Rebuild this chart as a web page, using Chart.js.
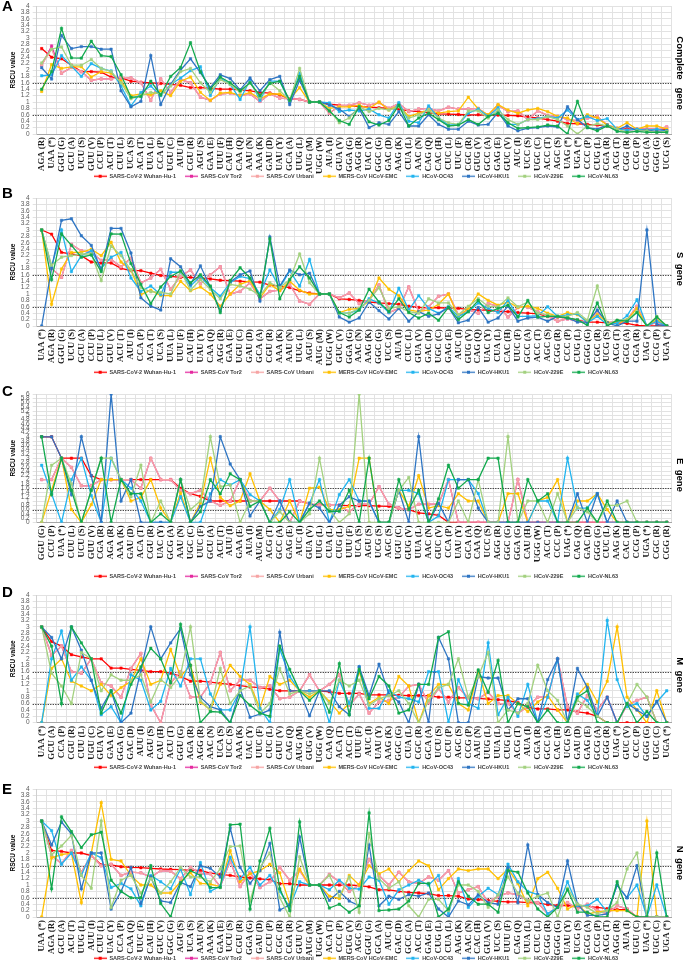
<!DOCTYPE html>
<html><head><meta charset="utf-8">
<script src="https://cdn.jsdelivr.net/npm/chart.js@4.4.0/dist/chart.umd.min.js"></script>
<style>
html,body{margin:0;padding:0;background:#fff;width:685px;height:962px;overflow:hidden;position:relative;font-family:"Liberation Sans",Arial,sans-serif}
.letter{position:absolute;left:2px;font:bold 15px/15px "Liberation Sans",Arial,sans-serif;color:#000}
.gene{position:absolute;writing-mode:vertical-rl;font:bold 9.5px "Liberation Sans",Arial,sans-serif;white-space:pre;transform:translate(-50%,-50%);color:#000}
</style></head><body>
<script>
// ---------- series ----------
const seriesNames = ['SARS-CoV-2 Wuhan-Hu-1','SARS-CoV Tor2','SARS-CoV Urbani','MERS-CoV HCoV-EMC','HCoV-OC43','HCoV-HKU1','HCoV-229E','HCoV-NL63'];
const thresholds = [1.6, 0.6];

// ---------- Panel A: complete gene ----------
const labelsA = ['AGA (R)','UAA (*)','GGU (G)','GCU (A)','UCU (S)','GUU (V)','CCU (P)','ACU (T)','CUU (L)','UCA (S)','ACA (T)','UUA (L)','CCA (P)','UGU (C)','AUU (I)','CGU (R)','AGU (S)','GAA (E)','UUU (F)','CAU (H)','CAA (Q)','AAU (N)','AAA (K)','GAU (D)','UAU (Y)','GCA (A)','UUG (L)','AUG (M)','UGG (W)','AUA (I)','GUA (V)','GGA (G)','AGG (R)','UAC (Y)','GGC (G)','GAC (D)','AAG (K)','CUA (L)','AAC (N)','CAG (Q)','CAC (H)','CUC (L)','UUC (F)','CGC (R)','GUG (V)','GCC (A)','GAG (E)','GUC (V)','AUC (I)','UCC (S)','UGC (C)','ACC (T)','AGC (S)','UAG (*)','UGA (*)','CCC (P)','CUG (L)','CGA (R)','ACG (T)','CGG (R)','CCG (P)','GCG (A)','GGG (G)','UCG (S)'];
const cov2A = [2.67,2.4,2.35,2.15,1.95,1.95,1.93,1.78,1.75,1.65,1.62,1.6,1.58,1.55,1.52,1.45,1.45,1.43,1.4,1.4,1.38,1.35,1.3,1.28,1.22,1.1,1.08,1,1,0.93,0.9,0.88,0.86,0.84,0.82,0.8,0.78,0.72,0.7,0.66,0.63,0.62,0.61,0.6,0.6,0.59,0.59,0.58,0.57,0.53,0.5,0.45,0.4,0.33,0.32,0.3,0.28,0.25,0.17,0.16,0.15,0.15,0.14,0.14];
const tor2A = [2.15,2.75,1.9,2.08,1.95,1.68,1.72,1.72,1.77,1.75,1.6,1.05,1.72,1.3,1.7,1.6,1.15,1.05,1.25,1.28,1.2,1.25,1.02,1.25,1.12,1.1,1.08,1,1,0.65,0.88,0.9,0.97,0.9,0.98,0.8,0.95,0.7,0.78,0.8,0.72,0.84,0.78,0.78,0.8,0.58,0.9,0.7,0.72,0.45,0.72,0.58,0.55,0.45,0.42,0.5,0.55,0.28,0.18,0.12,0.15,0.15,0.15,0.22];
const urbaniA = [2.15,2.65,1.9,2.08,1.95,1.68,1.72,1.72,1.77,1.75,1.6,1.05,1.72,1.3,1.7,1.6,1.15,1.05,1.25,1.28,1.2,1.25,1.02,1.25,1.12,1.1,1.08,1,1,0.65,0.88,0.9,0.97,0.9,0.98,0.8,0.95,0.7,0.78,0.8,0.72,0.84,0.78,0.78,0.8,0.58,0.9,0.7,0.72,0.45,0.72,0.58,0.55,0.45,0.42,0.5,0.55,0.28,0.18,0.12,0.15,0.15,0.15,0.22];
const mersA = [1.33,2.17,2.05,2.1,2.1,1.78,1.95,1.9,1.65,1.2,1.25,1.22,1.35,1.2,1.65,1.78,1.3,1.05,1.28,1.3,1.2,1.3,1.1,1.25,1.25,1.08,1.45,1,1,0.8,0.85,0.85,0.9,0.8,1.0,0.75,0.9,0.55,0.65,0.75,0.65,0.7,0.72,1.15,0.78,0.6,0.92,0.75,0.65,0.75,0.8,0.7,0.55,0.5,0.32,0.6,0.5,0.28,0.18,0.35,0.15,0.25,0.25,0.15];
const oc43A = [1.82,1.85,2.45,2.12,1.8,2.2,2.05,1.97,1.5,0.88,1.3,1.5,1.2,1.55,1.75,1.98,2.1,1.2,1.75,1.55,1.08,1.68,1.05,1.65,1.65,1.0,1.9,1,1,0.97,0.7,0.75,0.72,0.78,0.6,0.5,0.98,0.4,0.35,0.88,0.5,0.28,0.3,0.65,0.78,0.55,0.82,0.3,0.3,0.45,0.48,0.55,0.5,0.75,0.45,0.55,0.42,0.48,0.15,0.12,0.15,0.12,0.15,0.1];
const hku1A = [2.07,1.72,3.08,2.67,2.73,2.73,2.65,2.65,1.35,0.85,1.02,2.45,0.92,1.55,2.0,2.35,1.92,1.45,1.85,1.73,1.38,1.75,1.35,1.7,1.8,0.92,1.68,1,1,0.9,0.78,0.55,0.8,0.2,0.35,0.3,0.7,0.25,0.25,0.6,0.3,0.15,0.15,0.4,0.28,0.3,0.68,0.25,0.1,0.18,0.2,0.25,0.22,0.85,0.45,0.2,0.15,0.28,0.12,0.25,0.1,0.12,0.08,0.1];
const e229A = [2.22,2.65,2.72,2.15,2.15,2.33,2.05,1.95,1.6,1.1,1.2,1.3,1.25,1.5,1.95,2.05,1.6,1.3,1.7,1.55,1.3,1.6,1.15,1.6,1.35,1.05,2.05,1,1,0.75,0.35,0.5,0.85,0.7,0.8,0.75,0.85,0.5,0.6,0.75,0.5,0.35,0.3,0.72,0.72,0.5,0.75,0.45,0.3,0.45,0.45,0.55,0.45,0.25,0.0,0.25,0.32,0.25,0.15,0.05,0.1,0.1,0.05,0.08];
const nl63A = [1.4,1.95,3.3,2.38,2.37,2.9,2.45,2.42,1.85,1.15,1.17,1.65,1.22,1.8,2.08,2.85,1.95,1.4,1.78,1.6,1.35,1.6,1.2,1.58,1.65,1.05,1.8,1,1,0.72,0.42,0.3,0.85,0.38,0.28,0.42,0.9,0.25,0.5,0.65,0.45,0.25,0.28,0.45,0.3,0.55,0.65,0.35,0.18,0.2,0.22,0.28,0.25,0.0,1.02,0.2,0.1,0.25,0.08,0.05,0.08,0.05,0.05,0.05];

// ---------- Panel B: S gene ----------
const labelsB = ['UAA (*)','AGA (R)','GGU (G)','UCU (S)','GCU (A)','CCU (P)','CUU (L)','GUU (V)','ACU (T)','AUU (I)','CCA (P)','ACA (T)','UCA (S)','UUA (L)','UUU (F)','CAU (H)','UAU (Y)','CAA (Q)','AGG (R)','GAA (E)','UGU (C)','GAU (D)','GCA (A)','CGU (R)','AAA (K)','AAU (N)','UUG (L)','AGU (S)','AUG (M)','UGG (W)','GUC (V)','GGA (G)','AAC (N)','AAG (K)','GGC (G)','UCC (S)','AUA (I)','CUC (L)','GUA (V)','GAC (D)','UGC (C)','GAG (E)','AUC (I)','GUG (V)','CAG (Q)','UAC (Y)','CUA (L)','CAC (H)','UUC (F)','GCC (A)','ACC (T)','AGC (S)','CGG (R)','CCC (P)','CUG (L)','GGG (G)','CGC (R)','UCG (S)','ACG (T)','GCG (A)','CGA (R)','UAG (*)','CCG (P)','UGA (*)'];
const cov2B = [3.0,2.87,2.3,2.25,2.2,2.0,1.97,1.97,1.8,1.73,1.73,1.65,1.58,1.55,1.52,1.52,1.5,1.47,1.43,1.42,1.4,1.38,1.37,1.28,1.25,1.2,1.1,1.03,1,1,0.85,0.83,0.8,0.75,0.72,0.7,0.68,0.62,0.58,0.57,0.57,0.56,0.55,0.52,0.5,0.5,0.45,0.45,0.42,0.4,0.38,0.3,0.28,0.25,0.18,0.12,0.12,0.1,0.1,0.08,0.02,0,0,0];
const tor2B = [3.0,1.8,1.52,2.55,2.35,2.3,2.05,2.08,1.85,2.12,1.35,1.5,1.77,1.15,1.55,1.75,1.32,1.6,1.85,1.0,1.08,1.35,0.85,1.08,1.12,1.3,0.78,0.68,1,1,0.88,1.03,0.7,0.8,1.28,0.42,0.55,1.22,0.45,0.6,0.93,1.0,0.35,0.5,0.4,0.7,0.62,0.28,0.58,0.58,0.45,0.3,0.15,0.22,0.15,0.12,0.45,0.1,0.15,0.18,0.62,0,0.12,0];
const urbaniB = [3.0,1.8,1.52,2.55,2.35,2.3,2.05,2.08,1.85,2.12,1.35,1.5,1.77,1.15,1.55,1.75,1.32,1.6,1.85,1.0,1.08,1.35,0.85,1.08,1.12,1.3,0.78,0.68,1,1,0.88,1.03,0.7,0.8,1.28,0.42,0.55,1.22,0.45,0.6,0.93,1.0,0.35,0.5,0.4,0.7,0.62,0.28,0.58,0.58,0.45,0.3,0.15,0.22,0.15,0.12,0.45,0.1,0.15,0.18,0.62,0,0.12,0];
const mersB = [3.0,0.68,1.78,2.3,2.3,2.4,2.2,2.62,2.0,1.75,0.98,1.12,0.95,0.95,1.4,1.1,1.22,1.0,0.62,1.0,1.3,1.42,0.88,1.3,1.1,1.4,1.12,1.0,1,1,0.42,0.52,0.55,0.78,1.5,1.15,0.95,0.5,0.45,0.5,0.68,1.0,0.28,0.55,1.0,0.8,0.65,0.75,0.58,0.62,0.55,0.4,0.3,0.42,0.35,0.15,0.35,0.12,0.08,0.2,0.55,0,0.2,0];
const oc43B = [3.0,1.85,3.0,1.7,2.2,2.35,1.8,2.15,2.3,1.5,1.08,1.25,0.98,1.68,1.68,1.25,1.55,1.2,0.93,1.35,1.55,1.48,1.0,1.75,1.2,1.72,1.25,2.08,1,1,0.4,0.4,0.5,0.85,0.72,0.42,1.18,0.5,0.95,0.55,0.4,0.6,0.3,0.45,0.72,0.55,0.42,0.8,0.3,0.3,0.32,0.6,0.3,0.35,0.38,0.1,0.3,0.05,0.08,0.32,0.82,0,0.15,0];
const hku1B = [0,1.8,3.3,3.35,2.82,2.52,1.75,3.05,3.05,2.28,0.88,0.62,0.5,2.1,1.85,1.3,1.88,1.22,0.48,1.38,1.6,1.72,0.78,2.78,1.25,1.75,1.6,1.65,1,1,0.28,0.12,0.25,0.75,0.48,0.22,0.55,0.15,0.45,0.3,0.38,0.58,0.1,0.18,0.58,0.12,0.25,0.62,0.15,0.25,0.28,0.15,0.3,0.25,0.12,0.12,0.5,0.1,0,0.15,0.15,3.0,0.05,0];
const e229B = [3.0,1.9,2.15,2.2,2.25,2.25,1.42,2.5,2.2,1.75,1.2,1.07,1.05,1.0,1.72,1.12,1.45,1.15,0.85,1.3,1.25,1.15,0.95,1.35,1.2,1.45,2.25,1.35,1,1,0.4,0.4,0.55,0.8,1.2,0.55,0.6,0.45,0.4,0.85,0.72,0.72,0.35,0.62,0.85,0.62,0.6,0.88,0.6,0.75,0.4,0.35,0.3,0.3,0.42,0.18,1.25,0.05,0.18,0.2,0.45,0,0.3,0];
const nl63B = [3.0,1.45,2.88,2.52,2.15,2.22,1.7,2.88,2.87,1.95,1.3,0.7,1.22,1.55,1.72,1.35,1.6,1.25,0.42,1.42,1.82,1.5,0.92,2.72,0.85,1.45,1.85,1.5,1,1,0.42,0.28,0.5,1.15,0.75,0.45,0.85,0.42,0.25,0.4,0.18,0.58,0.2,0.45,0.8,0.42,0.55,0.65,0.28,0.8,0.28,0.3,0.3,0.25,0.2,0.02,0.72,0,0.18,0.15,0.42,0,0.28,0];

// ---------- Panel C: E gene ----------
const labelsC = ['GGU (G)','CCU (P)','UAA (*)','CUU (L)','UCU (S)','GUU (V)','CGA (R)','AGA (R)','AAA (K)','GAU (D)','ACA (T)','CGU (R)','UAC (Y)','GCG (A)','AAU (N)','UGC (C)','UUC (F)','GCU (A)','ACU (T)','AUU (I)','GAA (E)','AUA (I)','AUG (M)','ACG (T)','GCC (A)','GAG (E)','AUC (I)','GUA (V)','UUG (L)','CUA (L)','CUG (L)','UUU (F)','UCA (S)','AGU (S)','UCG (S)','AGC (S)','UGU (C)','GUG (V)','UUA (L)','AAC (N)','GUC (V)','CCA (P)','UAU (Y)','GCA (A)','CAA (Q)','UCC (S)','AGG (R)','GGC (G)','GGA (G)','CAU (H)','UGG (W)','ACC (T)','CCC (P)','UAG (*)','CAG (Q)','GAC (D)','GGG (G)','CUC (L)','AAG (K)','CAC (H)','CCG (P)','UGA (*)','CGC (R)','CGG (R)'];
const cov2C = [4,4,3,3,3,2.18,2,2,2,2,2,2,2,2,1.6,1.34,1.22,1,1,1,1,1,1,1,1,1,1,0.85,0.82,0.8,0.8,0.78,0.78,0.78,0.76,0.75,0.67,0.6,0.44,0.4,0.33,0,0,0,0,0,0,0,0,0,0,0,0,0,0,0,0,0,0,0,0,0,0,0];
const tor2C = [2,2,3,2.57,1.71,1.71,2,2,2,2,1.6,3,2,2,1.5,1.34,1.5,1,0.8,1,2,1,1,1.6,1,0,1,0.85,0.8,0.8,0.8,0.5,0.85,0.85,1.67,0.85,0.67,0.6,0.85,0.85,0.85,2,0,0,0,0,0,0,2,0,0,0,0,0,0,0,0,0,0,0,0,0,0,0];
const urbaniC = [2,2,3,2.57,1.71,1.71,2,2,2,2,1.6,3,2,2,1.5,1.34,1.5,1,0.8,1,2,1,1,1.6,1,0,1,0.85,0.8,0.8,0.8,0.5,0.85,0.85,1.67,0.85,0.67,0.6,0.85,0.85,0.85,2,0,0,0,0,0,0,2,0,0,0,0,0,0,0,0,0,0,0,0,0,0,0];
const mersC = [0,1.5,3,0.6,0,0.83,2,2,2,1,1.17,2,0.67,0,1.37,0,0.9,3,1.17,0.78,1,2.27,1,0.6,0,1,0,1.6,1.65,0.6,0.6,0.75,3,3,0,0,1.5,0.75,2.18,0.67,0.78,0.67,1.34,1,1,0,0,1.34,1.34,0,1,1.17,2,0,1,1,1.34,0.6,0,0,0,0,0,0];
const oc43C = [2.67,1.34,0,2,3,1.25,0,3,2,1.6,1,0,0,0,1.2,0,0,1.34,2,1.75,2,1.3,1,0,0.6,2,0,0.9,2,0,1.3,2,1,0.97,0,0,1.5,1.5,1.35,0,0.3,2,2,2,1.35,0,0,0,0,0,1,1,0,3,0.67,0.67,1.35,0,0,0,0,0,0,0];
const hku1C = [4,4,3,1.3,4,2.18,0,6,1,2,0,0,0,0,2,0,0.75,1,4,2.73,2,0.3,1,0,1,0,0,0.9,0.67,0,0.8,1.2,1,1,0,0,1.5,0,4,0,0.9,0,2,2,0.67,0,0,0,0,0,0,0,0,0,1.34,0,1.34,0,1,0,0,0,0,0];
const e229C = [0,2.67,3,1.8,0,1.5,3,3,2,1.2,2.67,0,1,0,2,0.6,1,4,1.67,1.75,0,1,1,0,0.5,0,0,0.4,3,0.6,0,0.4,6,0,0,0,1.5,2.1,0,0,0,0,1,0,2,0,0,4,0,1,1,0,1.35,0,0.7,0.5,0,0.8,0.8,1,0,0,0,0];
const nl63C = [4,1.3,3,1.5,0,1.5,3,0,2,1.34,1.34,0,0.4,0,2,0,0.5,2,1.34,2.27,2,0.75,1,0,0,0.5,0,0.6,1,0.52,0.52,1.5,0,3,0,0,2,0.6,1.5,0,1.1,2.67,1.6,2,2,3,3,0,0,2,1,1.34,0,0,0,0.67,0,1,0,0,0,0,0,0];

// ---------- Panel D: M gene ----------
const labelsD = ['UAA (*)','GCU (A)','CCA (P)','CGU (R)','CUU (L)','UGU (C)','GUA (V)','GAA (E)','GGA (G)','GAC (D)','AUU (I)','AGU (S)','CAU (H)','ACU (T)','GGU (G)','AGA (R)','AGG (R)','AAC (N)','UCA (S)','UCC (S)','AAA (K)','UAC (Y)','UUC (F)','CUC (L)','GUU (V)','CAG (Q)','AUG (M)','GUG (V)','UGG (W)','CAA (Q)','ACA (T)','ACC (T)','UUU (F)','AUC (I)','UAU (Y)','AAG (K)','GGC (G)','CUA (L)','CGC (R)','GCA (A)','UCU (S)','CCU (P)','AGC (S)','CCG (P)','AAU (N)','UUG (L)','UUA (L)','CUG (L)','ACG (T)','AUA (I)','CGA (R)','GCC (A)','CAC (H)','UCG (S)','GAU (D)','GAG (E)','GCG (A)','CGG (R)','UAG (*)','GUC (V)','CCC (P)','GGG (G)','UGC (C)','UGA (*)'];
const cov2D = [3,2.54,2.4,2.13,2.06,2,2,1.71,1.71,1.67,1.64,1.6,1.6,1.55,1.45,1.3,1.3,1.27,1.23,1.2,1.16,1.12,1.1,1.05,1,1,1,1,1,0.97,0.92,0.92,0.92,0.87,0.87,0.87,0.86,0.85,0.85,0.85,0.8,0.8,0.78,0.78,0.76,0.74,0.72,0.69,0.63,0.48,0.43,0.43,0.4,0.4,0.34,0.3,0.2,0,0,0,0,0,0,0];
const tor2D = [3,2.1,2.4,1.6,1.55,2,1.25,1.15,0.8,1.7,2.17,0.55,0,1.25,1.6,0.8,0.8,1.25,2.2,1,1.33,1.33,1.1,1.15,0.75,0.8,1,1.5,1,1.2,1.5,0.55,0.9,0.3,0.65,0.7,0.8,1.15,1.2,0.62,1.07,0.65,1.1,0.78,0.75,0.95,0.6,0.6,0.3,0.5,0.8,0.8,2,0.5,0.3,0.85,0.4,0.8,0,0.55,0.7,0.8,0,0];
const urbaniD = [3,2.1,2.4,1.6,1.55,2,1.25,1.15,0.8,1.7,2.17,0.55,0,1.25,1.6,0.8,0.8,1.25,2.2,1,1.33,1.33,1.1,1.15,0.75,0.8,1,1.5,1,1.2,1.5,0.55,0.9,0.3,0.65,0.7,0.8,1.15,1.2,0.62,1.07,0.65,1.1,0.78,0.75,0.95,0.6,0.6,0.3,0.5,0.8,0.8,2,0.5,0.3,0.85,0.4,0.8,0,0.55,0.7,0.8,0,0];
const mersD = [0,1.7,2,1.3,1.15,1,1.2,0.85,1.1,1.3,2,1.2,1.33,2.3,1.45,1.8,0.65,0.4,1.2,1.8,1.45,1.2,0.45,1.45,1.2,1.33,1,0.8,1,0.67,0.3,0.6,1.6,0.6,0.8,0.6,1.45,1.15,0,0.85,1.2,1.2,0.6,0.4,1.6,0.6,0.85,0.85,0.6,0.35,0.65,0.85,0.4,0,0.85,1.2,0.65,1.3,3,0.8,0.4,0,1,0];
const oc43D = [0,2,2.87,1.33,1.75,1.33,0.25,0.5,0,1.5,1.33,0.4,0.67,1.7,1.15,2,2,0.9,0.4,0.4,1,3,0.45,0,2.3,1.45,1,1,1,0,1.33,0.6,1.75,0.45,0.45,1,0.8,0.75,0.65,1.6,1.6,0,1.35,0.6,0.45,2.5,0.25,0.8,0.2,1.2,0,0.8,2,0,0.9,0.7,0.2,3.2,1.35,0.5,0.6,0.2,0.65,1];
const hku1D = [3,2.67,2,3,2.27,1.33,0.45,1,0,0.3,1.65,3,2,2.5,2.95,1.5,0.8,0.5,0.4,0,1.07,0.17,0.27,0.4,2.83,1,1,0.22,1,1,0.5,0.25,1.75,0.85,1.83,0.9,0.65,0,1.2,0,2.67,2,0,0,1.45,1.4,1.4,0.4,0.75,0.75,0,1.35,2,0,1.7,1.1,0.2,0.8,0,0.6,0.4,0.2,0.67,0];
const e229D = [3,1.55,1.15,0.6,2.2,2,1,1.5,1.33,1.33,1.5,0.65,1.35,1.1,1.5,3,0.7,0.4,1.7,0.6,1,1.15,0.3,0.6,1.7,0.9,1,0.9,1,0.6,1.33,1.15,1.33,0.55,0.75,0.85,1,0.6,0,0.7,1.1,1.2,2,0.8,1.45,2.2,0,0.4,0.3,0.6,1.8,1,0.7,0,0.7,0.5,0.2,0,0,0.6,1.2,0.8,0,0];
const nl63D = [3,2.4,0.6,3,2.5,2,0.3,1,0.3,1.2,1.75,2.33,2,1.25,3.08,1.8,0,0.35,0.33,0,0.85,0.55,0.3,0.2,2.4,1.67,1,0.7,1,0.33,1.85,0.25,1.67,0.75,1.45,1.15,0.3,0.4,1.2,1.2,2.67,2.85,0.6,0.55,1.65,0.95,1.95,0,0.6,0.5,0,0.4,0,0,0.8,1,0,0,0,0.6,0,0.35,0,0];

// ---------- Panel E: N gene ----------
const labelsE = ['UAA (*)','AGA (R)','GCU (A)','ACU (T)','UUG (L)','AUU (I)','CUU (L)','UAC (Y)','CCA (P)','CAA (Q)','UUC (F)','CAU (H)','GUC (V)','GGC (G)','AGU (S)','UCA (S)','AAU (N)','AAA (K)','GAA (E)','UCU (S)','CGU (R)','GGA (G)','GAU (D)','CCU (P)','CGC (R)','CGA (R)','GUU (V)','AUG (M)','UGG (W)','ACA (T)','CCC (P)','GUG (V)','AGC (S)','GGU (G)','GCA (A)','AUC (I)','GAC (D)','GCC (A)','ACC (T)','GAG (E)','CUG (L)','CUA (L)','AAG (K)','AAC (N)','CAC (H)','GUA (V)','UCC (S)','UUU (F)','CAG (Q)','UUA (L)','CUC (L)','CGG (R)','GGG (G)','UAU (Y)','UCG (S)','GCG (A)','CCG (P)','ACG (T)','AGG (R)','AUA (I)','UGU (C)','UAG (*)','UGC (C)','UGA (*)'];
const cov2E = [3,2.08,2.05,2,2,1.92,1.63,1.63,1.57,1.55,1.54,1.52,1.5,1.49,1.48,1.46,1.46,1.37,1.33,1.3,1.25,1.22,1.19,1.16,1.04,1.04,1,1,1,1,1,1,0.98,0.94,0.85,0.85,0.8,0.77,0.75,0.73,0.67,0.67,0.65,0.56,0.54,0.52,0.49,0.47,0.47,0.45,0.44,0.39,0.36,0.36,0.33,0.33,0.3,0.26,0.23,0.23,0,0,0,0];
const tor2E = [3,1.92,1.67,2.08,1.4,1.92,1.6,1.65,1.3,1.4,1.38,1.25,1.45,1.43,1.2,1.55,1.35,1.35,0.95,1.75,0.95,1.4,0.92,1.1,1.55,1.15,1.45,1,1,1.33,1.1,0.8,1,1.8,1.3,1,1.4,1.1,1.05,1.25,1.15,1.45,0.75,0.85,0.95,0.45,0.65,0.75,0.7,0.5,0.45,0.1,0.3,0.45,0.25,0.4,0.2,0.1,0.35,0.25,0,0,0,0];
const urbaniE = [3,1.92,1.67,2.08,1.4,1.92,1.6,1.65,1.3,1.4,1.38,1.25,1.45,1.43,1.2,1.55,1.35,1.35,0.95,1.75,0.95,1.4,0.92,1.1,1.55,1.15,1.45,1,1,1.33,1.1,0.8,1,1.8,1.3,1,1.4,1.1,1.05,1.25,1.15,1.45,0.75,0.85,0.95,0.45,0.65,0.75,0.7,0.5,0.45,0.1,0.3,0.45,0.25,0.4,0.2,0.1,0.35,0.25,0,0,0,0];
const mersE = [0,1.85,1.95,2,0.45,2,3.57,1.8,1.75,1.3,1,1,0.75,0.75,1.1,1.38,1.05,1.03,0.95,2.07,1.1,1.35,1.45,1.65,1.38,0.4,1.5,1,1,0.65,0.58,1.3,1,1.6,1.35,1.5,1.1,1.45,1.75,1.6,0.85,1.2,1.5,1.45,1.5,1.5,1.2,1.5,1.05,0.35,1.2,1.4,0.9,0.25,0.4,0.1,0.15,0.2,0.2,0.2,0,3,0,0];
const oc43E = [3,2.7,1.65,2,1.3,2,1.85,0.92,1.05,0.88,0.35,1.3,1.1,0.88,1.5,0.7,1.7,0.8,0.97,1.87,1.2,1.55,1,1.3,0.8,0.3,1.1,1,1,0.85,1.15,0.9,0.87,1.25,1.15,0.4,0.85,1,1.15,1,1.3,0.1,1.2,0.3,0.65,0.9,0.7,1.65,1.1,0.8,0.7,0.1,0.3,1.1,0.35,0.35,0.55,0.15,1,0.6,1,0,1,0];
const hku1E = [3,2.25,2.97,2.6,0.88,2,2,0.25,0.8,1.55,0.42,1.25,0.5,0.45,1.08,0.95,1.6,1.52,1.25,2.78,1.55,1.05,1.45,2.3,0.22,0.38,2.5,1,1,0.52,0.8,0.5,0.35,2.25,0.35,0.65,0.55,0.7,0.65,0.75,0.25,0,0.5,0.38,0.7,0.45,0.4,1.55,0.45,2.25,0.7,0.45,0.3,1.75,0.4,0.05,0.05,0.1,1,0.6,1.6,0,0,0];
const e229E = [3,1.95,2.22,2.55,1.3,0.9,3,0.3,1.15,1.3,0.75,1.2,0.75,1.1,1.55,1.25,1.25,1.1,1.5,2.2,2.22,0.5,1.55,2,0.6,0,1.88,1,1,1.3,0.65,1.25,0.15,2.6,1.2,0.9,1.1,0.35,0,0.55,0.55,0.2,1,1,0.8,0.3,0.7,1.25,0.75,0.5,0.65,0.75,0,0.9,0.4,0.3,0.1,0.2,0.45,1.5,2,0,0,0];
const nl63E = [3,0.88,3.13,2.67,2.17,2.57,2.65,1.15,0.8,0.6,0.6,1.6,0.42,0,1.05,1.45,1.3,0.92,0.92,2.88,2.9,0.25,1.75,2.77,0.88,0.2,2.97,1,1,0.28,0.4,0.15,0.35,3.25,0.2,0.22,0.25,0.5,1.05,1.05,0,0.25,1.1,0.65,0.4,0.4,0.15,1.45,1.4,0.75,0.25,0,0.3,0.85,0.15,0.15,0,0,1.1,0.2,0,0,2,0];

// ---------- styles ----------
const seriesColors = ['#ff0000','#e4299f','#f6a3a3','#ffc000','#21b4ef','#2e75c3','#a3d17f','#12a94e'];
const LEG_FONT = 5.5, LEG_PAD = 9, ICON_W = 13;
Chart.defaults.font.family = '"Liberation Sans", Arial, sans-serif';

const panels = [
  {letter:'A', gene:'Complete   gene', labels:labelsA, series:[cov2A,tor2A,urbaniA,mersA,oc43A,hku1A,e229A,nl63A], yMax:4, plotTop:6, plotBottom:134, legendY:176, letterTop:-2, geneY:73},
  {letter:'B', gene:'S  gene', labels:labelsB, series:[cov2B,tor2B,urbaniB,mersB,oc43B,hku1B,e229B,nl63B], yMax:4, plotTop:197.7, plotBottom:325.7, legendY:371.5, letterTop:185, geneY:269},
  {letter:'C', gene:'E  gene', labels:labelsC, series:[cov2C,tor2C,urbaniC,mersC,oc43C,hku1C,e229C,nl63C], yMax:6, plotTop:394.3, plotBottom:522.7, legendY:576.7, letterTop:383, geneY:475},
  {letter:'D', gene:'M  gene', labels:labelsD, series:[cov2D,tor2D,urbaniD,mersD,oc43D,hku1D,e229D,nl63D], yMax:4, plotTop:595, plotBottom:722.7, legendY:767.3, letterTop:584, geneY:675},
  {letter:'E', gene:'N  gene', labels:labelsE, series:[cov2E,tor2E,urbaniE,mersE,oc43E,hku1E,e229E,nl63E], yMax:4, plotTop:789.3, plotBottom:917.3, legendY:958.3, letterTop:781, geneY:863}
];

function makeIcon(color){
  const c = document.createElement('canvas'); c.width = ICON_W; c.height = 7;
  const g = c.getContext('2d');
  g.strokeStyle = color; g.lineWidth = 1.3;
  g.beginPath(); g.moveTo(0, 3.5); g.lineTo(ICON_W, 3.5); g.stroke();
  g.fillStyle = color; g.fillRect(ICON_W / 2 - 1.5, 2, 3, 3);
  return c;
}
const legendIcons = seriesColors.map(makeIcon);

const refLines = {
  id: 'refLines',
  beforeDatasetsDraw(chart){
    const {ctx, chartArea: a, scales: {y}} = chart;
    ctx.save();
    ctx.strokeStyle = '#333'; ctx.lineWidth = 1; ctx.setLineDash([1.2, 1.3]);
    thresholds.forEach(v => {
      const py = Math.round(y.getPixelForValue(v)) + 0.5;
      ctx.beginPath(); ctx.moveTo(a.left - 4, py); ctx.lineTo(a.right, py); ctx.stroke();
    });
    ctx.restore();
  }
};
const legendShift = {
  id: 'legendShift',
  afterLayout(chart){ if (chart.legend){ chart.legend.left += 20; chart.legend.right += 20; } }
};

panels.forEach(p => {
  const top = p.plotTop - 8;
  const H = Math.round(p.legendY + 10 + LEG_FONT / 2 - top);
  const legendH = LEG_FONT + LEG_PAD + 10;
  const hx = (top + H - legendH) - p.plotBottom;

  const cv = document.createElement('canvas');
  cv.width = 685; cv.height = H;
  cv.style.cssText = `position:absolute;left:0;top:${top}px`;
  document.body.appendChild(cv);

  const letter = document.createElement('div');
  letter.className = 'letter'; letter.style.top = p.letterTop + 'px'; letter.textContent = p.letter;
  document.body.appendChild(letter);

  const gene = document.createElement('div');
  gene.className = 'gene'; gene.style.left = '680px'; gene.style.top = p.geneY + 'px'; gene.textContent = p.gene;
  document.body.appendChild(gene);

  const datasets = p.series.map((vals, i) => ({
    label: seriesNames[i], data: vals,
    borderColor: seriesColors[i], backgroundColor: seriesColors[i],
    borderWidth: 1.3, tension: 0,
    pointStyle: 'rect', pointRadius: 1.7, pointBorderWidth: 0.5,
    pointBackgroundColor: seriesColors[i], pointBorderColor: seriesColors[i],
    order: seriesNames.length - i
  }));

  new Chart(cv.getContext('2d'), {
    type: 'line',
    data: { labels: p.labels, datasets },
    plugins: [refLines, legendShift],
    options: {
      responsive: false, animation: false, devicePixelRatio: 1,
      layout: { padding: { top: 8, right: 13.3, left: 0, bottom: 0 } },
      plugins: {
        tooltip: { enabled: false },
        legend: {
          position: 'bottom',
          labels: {
            usePointStyle: true, pointStyleWidth: ICON_W, padding: LEG_PAD,
            font: { size: LEG_FONT, weight: 'bold' }, color: '#404040',
            generateLabels: chart => chart.data.datasets.map((ds, i) => ({
              text: ds.label, fillStyle: ds.borderColor, strokeStyle: ds.borderColor,
              lineWidth: 0, pointStyle: legendIcons[i], hidden: false, datasetIndex: i, fontColor: '#404040'
            }))
          }
        }
      },
      scales: {
        x: {
          type: 'category', offset: true,
          grid: { offset: true, color: '#e2e2e2', lineWidth: 1, drawTicks: false },
          border: { color: '#a6a6a6' },
          ticks: { autoSkip: false, maxRotation: 90, minRotation: 90, padding: 3,
                   font: { family: '"Liberation Serif", "Times New Roman", serif', size: 8.8, weight: 'bold' }, color: '#1a1a1a' },
          afterFit(s){ s.height = hx; s._computeLabelArea = () => undefined; }
        },
        y: {
          min: 0, max: p.yMax,
          grid: { color: '#e2e2e2', tickLength: 4 },
          border: { color: '#d0d0d0' },
          ticks: { autoSkip: false, padding: 3, font: { size: 6.5 }, color: '#595959',
                   callback: v => String(+Number(v).toFixed(1)) },
          afterBuildTicks(s){ const t = []; for (let k = 0; k <= Math.round(p.yMax * 5); k++) t.push({value: k / 5}); s.ticks = t; },
          title: { display: true, text: 'RSCU value', font: { size: 6.5, weight: 'bold' }, color: '#000', padding: { top: 9, bottom: 0 } },
          afterFit(s){ s.width = 36.7; }
        }
      }
    }
  });
});
</script>
</body></html>
